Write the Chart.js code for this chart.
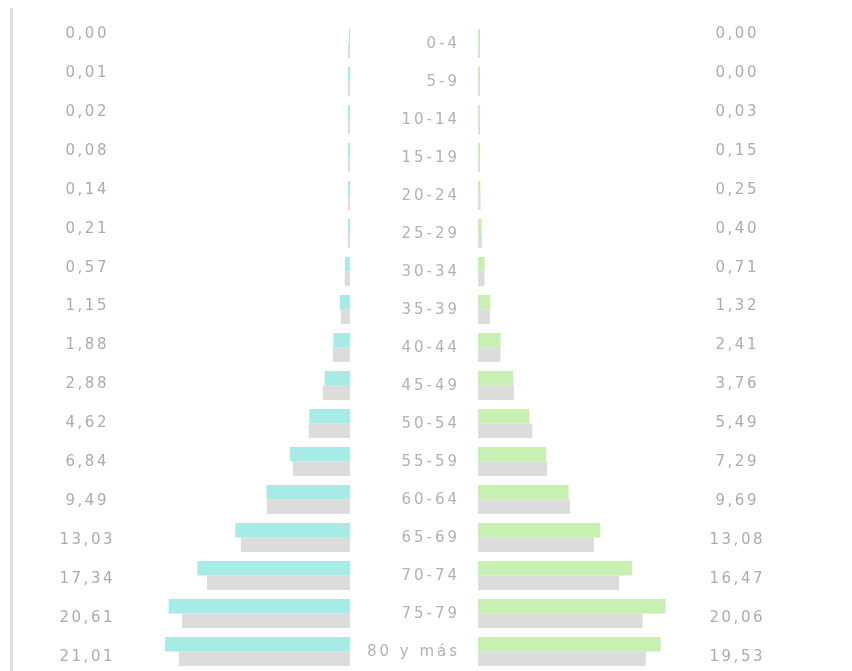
<!DOCTYPE html>
<html lang="es">
<head>
<meta charset="utf-8">
<script src="https://cdn.jsdelivr.net/npm/chart.js@4.4.0/dist/chart.umd.min.js"></script>
<style>
  html, body { margin: 0; padding: 0; background: #fff; }
  #wrap { position: relative; width: 852px; height: 671px; overflow: hidden; }
  #wrap canvas { position: absolute; left: 0; top: 0; }
  #linea { position: absolute; left: 10px; top: 8px; width: 3px; height: 663px; background: #dedede; }
</style>
</head>
<body>
<div id="wrap">
  <div id="linea"></div>
  <canvas id="chartIzq" width="852" height="671"></canvas>
  <canvas id="chartDer" width="852" height="671"></canvas>
</div>
<script>
const edades = ['0-4', '5-9', '10-14', '15-19', '20-24', '25-29', '30-34', '35-39', '40-44',
    '45-49', '50-54', '55-59', '60-64', '65-69', '70-74', '75-79', '80 y más'];
const valoresIzq = [0.00, 0.01, 0.02, 0.08, 0.14, 0.21, 0.57, 1.15, 1.88, 2.88, 4.62, 6.84, 9.49, 13.03, 17.34, 20.61, 21.01];
const referenciaIzq = [0.01, 0.01, 0.03, 0.09, 0.15, 0.25, 0.60, 1.05, 1.95, 3.10, 4.70, 6.50, 9.45, 12.40, 16.25, 19.10, 19.45];
const valoresDer = [0.00, 0.00, 0.03, 0.15, 0.25, 0.40, 0.71, 1.32, 2.41, 3.76, 5.49, 7.29, 9.69, 13.08, 16.47, 20.06, 19.53];
const referenciaDer = [0.01, 0.01, 0.04, 0.14, 0.27, 0.42, 0.70, 1.30, 2.40, 3.85, 5.80, 7.40, 9.85, 12.40, 15.10, 17.60, 17.95];

document.addEventListener('DOMContentLoaded', function() {
    const ejeMax = 24;
    const fuente = '15px "DejaVu Sans"';
    const gris = '#dcdcdc';

    function formato(v) {
        return v.toFixed(2).replace('.', ',');
    }

    // columna de valores (misma rejilla para ambos lados)
    function dibujarValores(ctx, valores, xCentro) {
        const top = 34, paso = 38.94;
        ctx.save();
        ctx.font = fuente;
        ctx.letterSpacing = '2.5px';
        ctx.fillStyle = '#acacac';
        ctx.textAlign = 'center';
        ctx.textBaseline = 'middle';
        valores.forEach((v, i) => ctx.fillText(formato(v), xCentro + 1.25, top + i * paso));
        ctx.restore();
    }

    function opciones(reverse, padding) {
        return {
            responsive: false,
            animation: false,
            indexAxis: 'y',
            layout: { padding: padding },
            scales: {
                x: { display: false, min: 0, max: ejeMax, reverse: reverse },
                y: { display: false }
            },
            plugins: {
                legend: { display: false },
                tooltip: { enabled: false }
            }
        };
    }

    function dataset(data, color) {
        return {
            data: data,
            backgroundColor: color,
            borderWidth: 0,
            categoryPercentage: 0.765,
            barPercentage: 1,
            minBarLength: 2
        };
    }

    new Chart(document.getElementById('chartIzq').getContext('2d'), {
        type: 'bar',
        data: {
            labels: edades,
            datasets: [dataset(valoresIzq, '#a6ebe5'), dataset(referenciaIzq, gris)]
        },
        options: opciones(true, { left: 350 - ejeMax * 8.8, right: 852 - 350, top: 24.5, bottom: 0.5 }),
        plugins: [{
            id: 'valoresIzq',
            afterDraw: chart => dibujarValores(chart.ctx, valoresIzq, 86)
        }]
    });

    new Chart(document.getElementById('chartDer').getContext('2d'), {
        type: 'bar',
        data: {
            labels: edades,
            datasets: [dataset(valoresDer, '#c7f0b2'), dataset(referenciaDer, gris)]
        },
        options: opciones(false, { left: 478, right: 852 - 478 - ejeMax * 9.35, top: 24.5, bottom: 0.5 }),
        plugins: [{
            id: 'etiquetas',
            afterDraw: chart => {
                const ctx = chart.ctx;
                const y = chart.scales.y;
                dibujarValores(ctx, valoresDer, 736);
                ctx.save();
                ctx.font = fuente;
                ctx.letterSpacing = '3px';
                ctx.fillStyle = '#b2b2b2';
                ctx.textAlign = 'right';
                ctx.textBaseline = 'middle';
                edades.forEach((e, i) => ctx.fillText(e, 460, y.getPixelForValue(i) + 1));
                ctx.restore();
            }
        }]
    });
});
</script>
</body>
</html>
